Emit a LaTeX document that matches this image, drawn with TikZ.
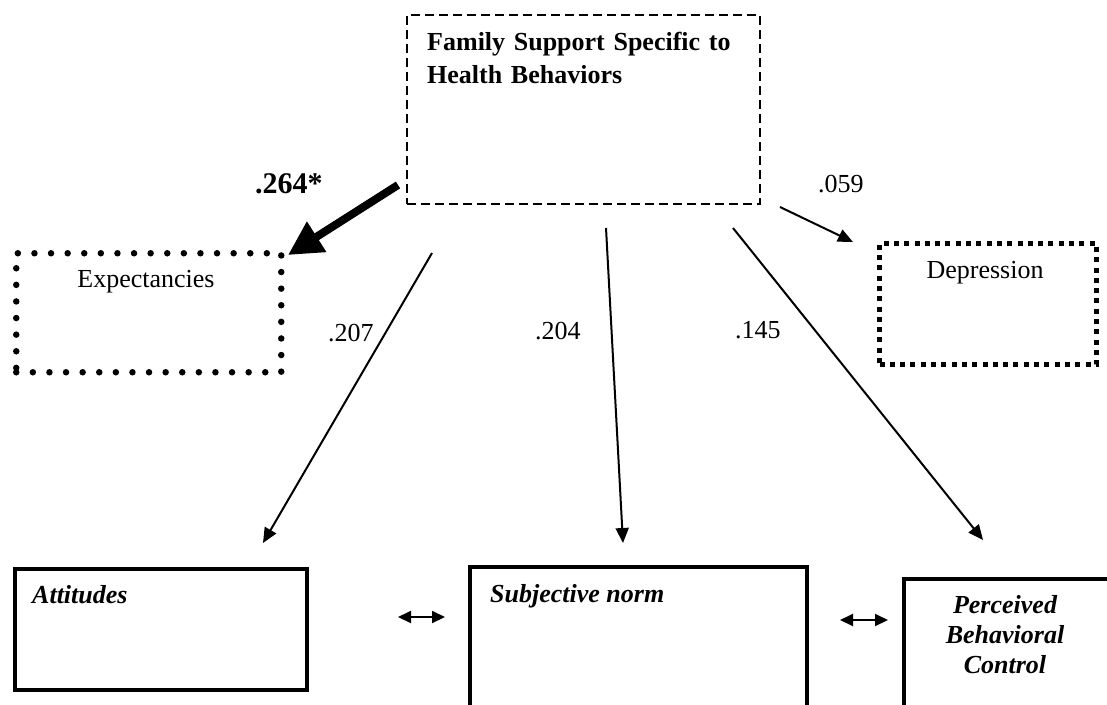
\documentclass[tikz,border=0pt]{standalone}
\usepackage{fontspec}
\setmainfont{Liberation Serif}
\usetikzlibrary{arrows.meta}

\begin{document}
\begin{tikzpicture}[x=1pt,y=-1pt,
  every node/.style={inner sep=0pt, font=\fontsize{26}{30}\selectfont},
  frame/.style={draw, rectangle, anchor=north west},
  solidbox/.style={frame, line width=3.5pt},
  dashbox/.style={frame, line width=1.6pt, dash pattern=on 9pt off 5pt},
  roundbox/.style={frame, line width=6.5pt, line cap=round, dash pattern=on 0pt off 16.6pt},
  squarebox/.style={frame, line width=5pt, dash pattern=on 5pt off 5.3pt},
  path/.style={line width=2pt, -{Triangle[length=15pt,width=13pt]}},
  strongpath/.style={line width=8pt, -{Triangle[length=34pt,width=34pt]}},
  corr/.style={line width=2pt, {Triangle[length=13pt,width=12pt]}-{Triangle[length=13pt,width=12pt]}},
  coef/.style={anchor=base west},
]
\useasboundingbox (0,0) rectangle (1107,704);

% construct boxes
\node[dashbox, minimum width=353pt, minimum height=189pt] (fam) at (406,14) {};
\node[roundbox, minimum width=265pt, minimum height=119pt] (exp) at (13,250) {};
\node[squarebox, minimum width=217pt, minimum height=121pt] (dep) at (877,241) {};
\node[solidbox, minimum width=292pt, minimum height=121pt] (att) at (13,567) {};
\node[solidbox, minimum width=337pt, minimum height=170pt] (sub) at (468,565) {};
\node[solidbox, minimum width=208pt, minimum height=160pt] (pbc) at (902,577) {};

% box labels
\node[anchor=base west, text width=330pt, align=left,
      font=\fontsize{26}{33}\selectfont\bfseries] (famtxt) at (427,50)
  {Family Support Specific to\\Health Behaviors};
\node[anchor=base] (exptxt) at (146,287) {Expectancies};
\node[anchor=base] (deptxt) at (985,278) {Depression};
\node[anchor=base west, font=\fontsize{26}{30}\selectfont\bfseries\itshape] (atttxt) at (32,603) {Attitudes};
\node[anchor=base west, font=\fontsize{26}{30}\selectfont\bfseries\itshape] (subtxt) at (490,602) {Subjective norm};
\node[anchor=base, text width=200pt, align=center,
      font=\fontsize{26}{30}\selectfont\bfseries\itshape] (pbctxt) at (1005,613)
  {Perceived\\Behavioral\\Control};

% end points of the paths
\coordinate (s264) at (398,185);  \coordinate (e264) at (288,255);
\coordinate (s059) at (780,207);  \coordinate (e059) at (853,242);
\coordinate (s207) at (432,253);  \coordinate (e207) at (263,543);
\coordinate (s204) at (606,228);  \coordinate (e204) at (623,543);
\coordinate (s145) at (733,228);  \coordinate (e145) at (983,540);
\coordinate (c1a) at (398,617);   \coordinate (c1b) at (445,617);
\coordinate (c2a) at (840,620);   \coordinate (c2b) at (888,620);

% paths
\draw[strongpath] (s264) -- (e264);
\draw[path] (s059) -- (e059);
\draw[path] (s207) -- (e207);
\draw[path] (s204) -- (e204);
\draw[path] (s145) -- (e145);
\draw[corr] (c1a) -- (c1b);
\draw[corr] (c2a) -- (c2b);

% coefficients
\node[coef, font=\fontsize{30}{30}\selectfont\bfseries] (k264) at (255,193) {.264*};
\node[coef] (k059) at (818,192) {.059};
\node[coef] (k207) at (328,341) {.207};
\node[coef] (k204) at (535,339) {.204};
\node[coef] (k145) at (735,338) {.145};
\end{tikzpicture}
\end{document}
